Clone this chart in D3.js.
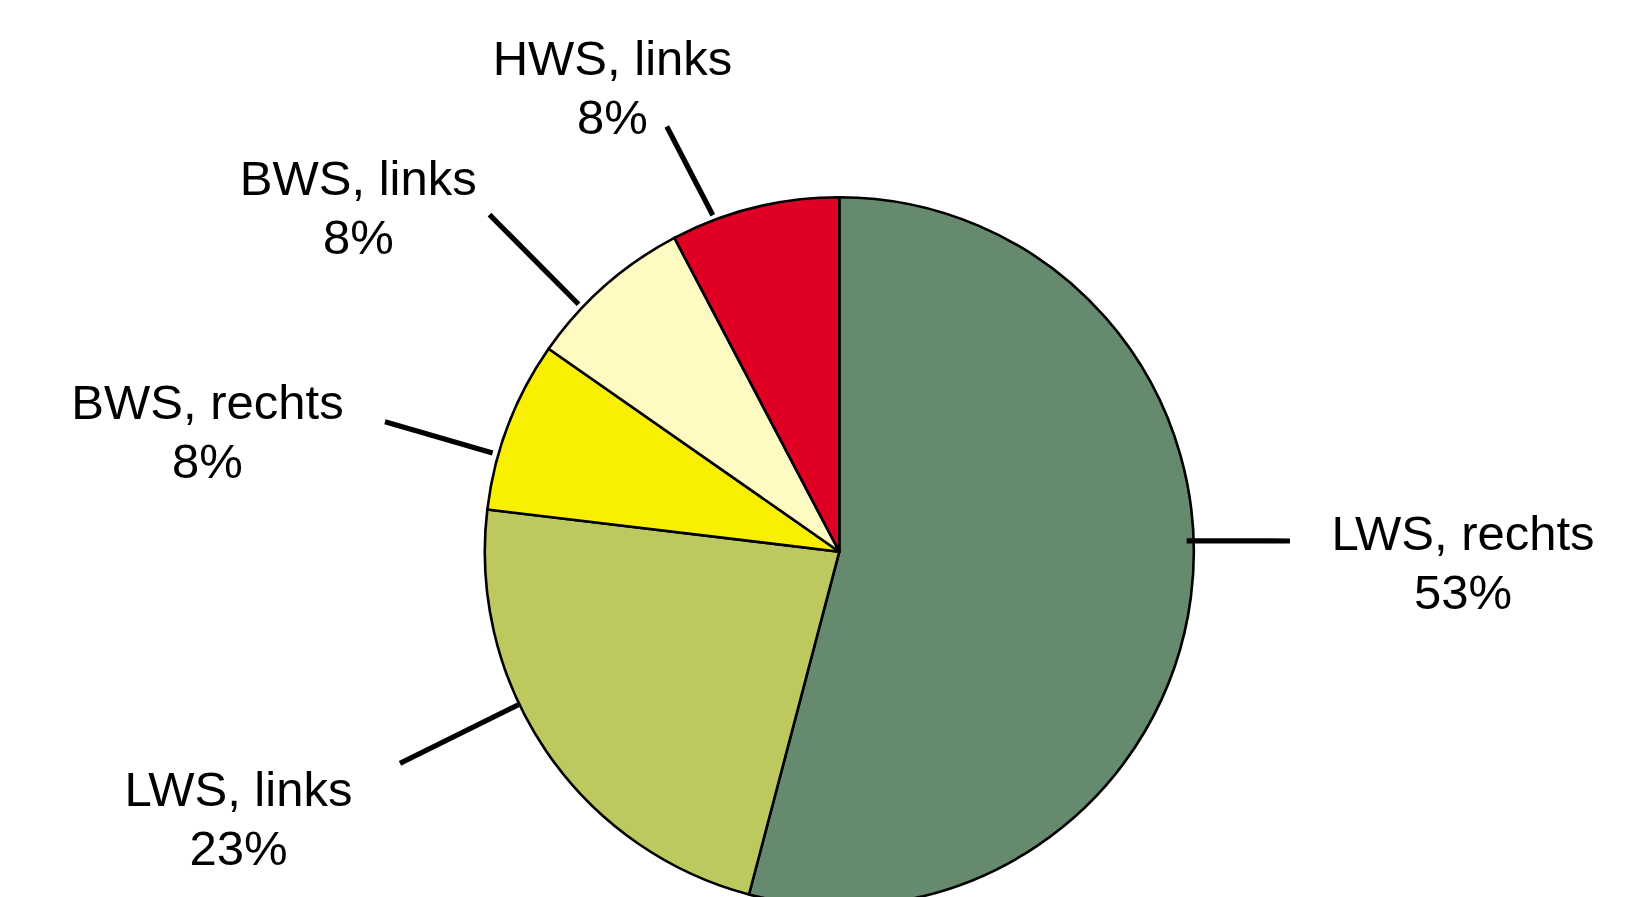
<!DOCTYPE html>
<html>
<head>
<meta charset="utf-8">
<script src="https://cdn.jsdelivr.net/npm/d3@7"></script>
<style>
  html, body { margin: 0; padding: 0; background: #ffffff; }
  svg { display: block; }
  text { font-family: "Liberation Sans", Arial, sans-serif; }
</style>
</head>
<body>
<svg id="chart" width="1626" height="897"></svg>
<script>
// ---- data ----
const categories = ["LWS, rechts", "LWS, links", "BWS, rechts", "BWS, links", "HWS, links"];
const values = [54.1, 22.8, 7.8, 7.6, 7.7];
const percentLabels = ["53%", "23%", "8%", "8%", "8%"];
const colors = ["#668A6E", "#BDC95F", "#F8F000", "#FFF9C2", "#E00023"];

// ---- layout (label placement, not data) ----
const leaderAngleDeg = [88.2, 244.5, 285.9, 313.5, 339.4];
const leaderStartOffset = [-7, 1, 6, 5, 5];
const leaderEnd = [[1290, 541], [400, 763.3], [385, 421.7], [489.5, 214.7], [666.8, 126.5]];
const labelPos = [[1463, 549.5], [238.5, 806], [207.5, 418.5], [358.3, 195], [612.5, 75]];

const W = 1626, H = 897;
const cx = 839.3, cy = 551.7, R = 354.5;
const fontSize = 49, lineGap = 59;

const svg = d3.select("#chart");
const g = svg.append("g").attr("transform", `translate(${cx},${cy})`);

const pie = d3.pie().sort(null).value(d => d.value).startAngle(0).endAngle(2 * Math.PI);
const data = categories.map((c, i) => ({ cat: c, value: values[i], color: colors[i], pct: percentLabels[i], i }));
const arcs = pie(data);
const arc = d3.arc().innerRadius(0).outerRadius(R);

g.selectAll("path.slice")
  .data(arcs)
  .join("path")
  .attr("class", "slice")
  .attr("d", arc)
  .attr("fill", d => d.data.color)
  .attr("stroke", "#000")
  .attr("stroke-width", 2.6)
  .attr("stroke-linejoin", "round");

// leader lines
const angleScale = d3.scaleLinear().domain([0, 360]).range([0, 2 * Math.PI]);
svg.selectAll("line.leader")
  .data(arcs)
  .join("line")
  .attr("class", "leader")
  .attr("x1", d => cx + (R + leaderStartOffset[d.data.i]) * Math.sin(angleScale(leaderAngleDeg[d.data.i])))
  .attr("y1", d => cy - (R + leaderStartOffset[d.data.i]) * Math.cos(angleScale(leaderAngleDeg[d.data.i])))
  .attr("x2", d => leaderEnd[d.data.i][0])
  .attr("y2", d => leaderEnd[d.data.i][1])
  .attr("stroke", "#000")
  .attr("stroke-width", 5.2);

// labels
const lbl = svg.selectAll("text.lbl")
  .data(arcs)
  .join("text")
  .attr("class", "lbl")
  .attr("text-anchor", "middle")
  .attr("font-size", fontSize)
  .attr("fill", "#000");
lbl.append("tspan")
  .attr("x", d => labelPos[d.data.i][0])
  .attr("y", d => labelPos[d.data.i][1])
  .text(d => d.data.cat);
lbl.append("tspan")
  .attr("x", d => labelPos[d.data.i][0])
  .attr("y", d => labelPos[d.data.i][1] + lineGap)
  .text(d => d.data.pct);
</script>
</body>
</html>
